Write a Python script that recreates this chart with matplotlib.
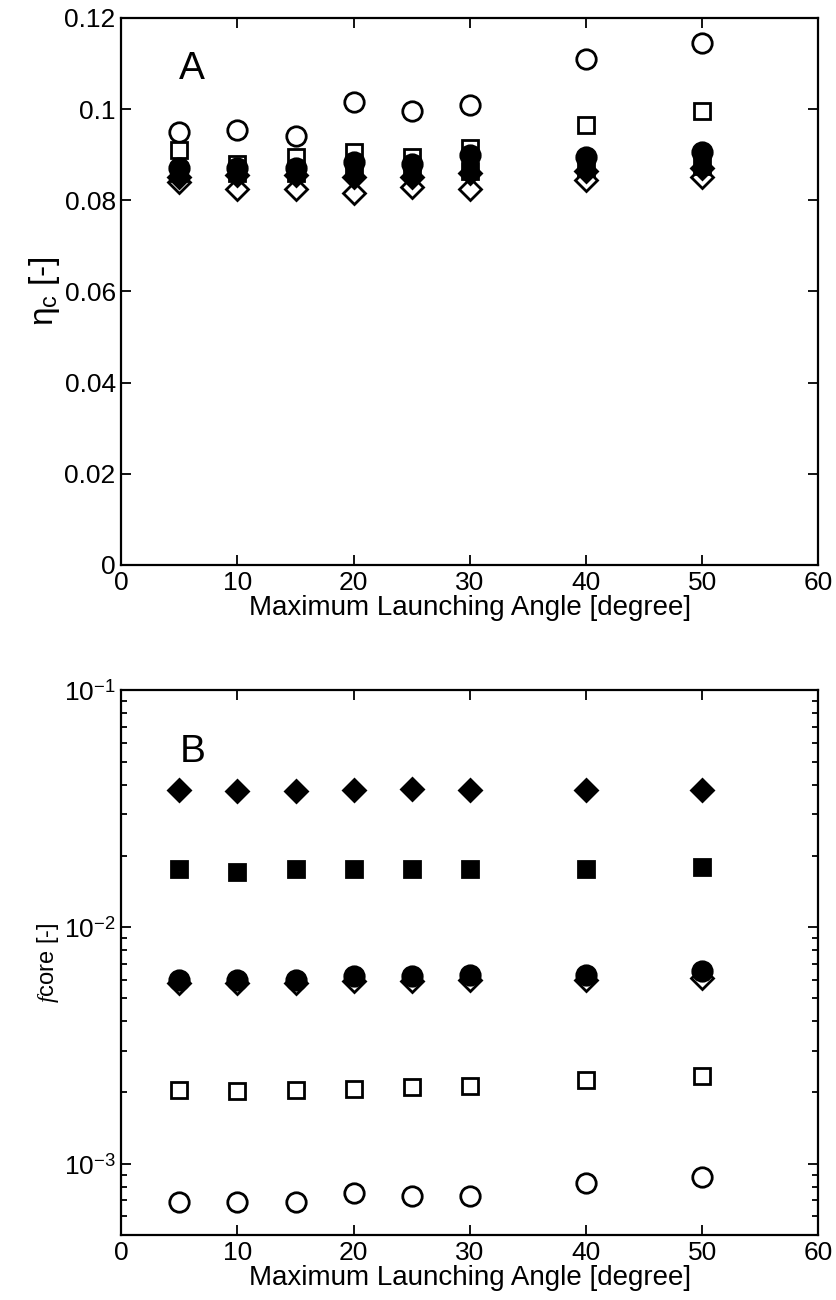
import numpy as np
import matplotlib.pyplot as plt

plt.rcParams['font.family'] = ['Liberation Sans', 'DejaVu Sans']
plt.rcParams['mathtext.fontset'] = 'custom'
plt.rcParams['mathtext.rm'] = 'Liberation Sans'
plt.rcParams['mathtext.it'] = 'Liberation Serif:italic'

angle = [5, 10, 15, 20, 25, 30, 40, 50]

# collection efficiency (panel A)
eta_open_circle = [0.095, 0.0955, 0.094, 0.1015, 0.0995, 0.101, 0.111, 0.1145]
eta_open_square = [0.091, 0.088, 0.0895, 0.0905, 0.0895, 0.0915, 0.0965, 0.0995]
eta_filled_circle = [0.087, 0.087, 0.087, 0.0885, 0.088, 0.090, 0.0895, 0.0905]
eta_filled_square = [0.086, 0.086, 0.086, 0.0865, 0.0865, 0.0865, 0.087, 0.0875]
eta_filled_diamond = [0.085, 0.0855, 0.0855, 0.085, 0.085, 0.086, 0.0865, 0.087]
eta_open_diamond = [0.084, 0.0825, 0.0825, 0.0815, 0.083, 0.0825, 0.0845, 0.085]

# core fraction (panel B)
f_open_circle = [0.00069, 0.00069, 0.00069, 0.00075, 0.00073, 0.00073, 0.00083, 0.00088]
f_open_square = [0.00205, 0.00203, 0.00204, 0.00207, 0.0021, 0.00213, 0.00225, 0.00235]
f_filled_circle = [0.0060, 0.0060, 0.0060, 0.0062, 0.0062, 0.0063, 0.0063, 0.0065]
f_filled_square = [0.0175, 0.0171, 0.0176, 0.0175, 0.0176, 0.0176, 0.0176, 0.018]
f_filled_diamond = [0.038, 0.0375, 0.0375, 0.038, 0.0382, 0.0378, 0.0378, 0.0378]
f_open_diamond = [0.0058, 0.0058, 0.0058, 0.0059, 0.0059, 0.0060, 0.0060, 0.0061]

styles = [
    ('o', 'white', 14),
    ('s', 'white', 11),
    ('o', 'black', 14),
    ('s', 'black', 11),
    ('D', 'black', 11),
    ('D', 'white', 11),
]


def draw_series(ax, series):
    # open diamonds go underneath so the filled markers cover them
    order = [5, 0, 1, 3, 4, 2]
    for i in order:
        m, fc, ms = styles[i]
        ax.plot(angle, series[i], linestyle='none', marker=m, markersize=ms,
                markerfacecolor=fc, markeredgecolor='black', markeredgewidth=2.0)


def style_axes(ax):
    ax.set_xlim(0, 60)
    ax.set_xticks(range(0, 61, 10))
    ax.tick_params(which='both', direction='in', top=True, right=True,
                   labelsize=19, width=1.3)
    ax.tick_params(which='major', length=7, pad=4)
    ax.tick_params(which='minor', length=4)
    for s in ax.spines.values():
        s.set_linewidth(1.6)
    ax.set_xlabel('Maximum Launching Angle [degree]', fontsize=20, labelpad=0)


fig = plt.figure(figsize=(8.36, 13), dpi=100)
axA = fig.add_axes([0.145, 0.5654, 0.834, 0.4208])
axB = fig.add_axes([0.145, 0.05, 0.834, 0.419])

draw_series(axA, [eta_open_circle, eta_open_square, eta_filled_circle,
                  eta_filled_square, eta_filled_diamond, eta_open_diamond])
style_axes(axA)
axA.set_ylim(0, 0.12)
axA.set_yticks([0, 0.02, 0.04, 0.06, 0.08, 0.1, 0.12])
axA.set_yticklabels(['0', '0.02', '0.04', '0.06', '0.08', '0.1', '0.12'])
axA.set_ylabel('η$_{\\rm c}$ [-]', fontsize=24, labelpad=2)
axA.text(5, 0.1065, 'A', fontsize=28)

draw_series(axB, [f_open_circle, f_open_square, f_filled_circle,
                  f_filled_square, f_filled_diamond, f_open_diamond])
style_axes(axB)
axB.set_yscale('log')
axB.set_ylim(5e-4, 1e-1)
axB.set_yticks([1e-3, 1e-2, 1e-1])
axB.set_yticklabels([r'$10^{-3}$', r'$10^{-2}$', r'$10^{-1}$'])
axB.set_ylabel(r'$f$core [-]', fontsize=17, labelpad=2)
axB.text(5, 0.05, 'B', fontsize=28)

fig.savefig('out.png', dpi=100)
